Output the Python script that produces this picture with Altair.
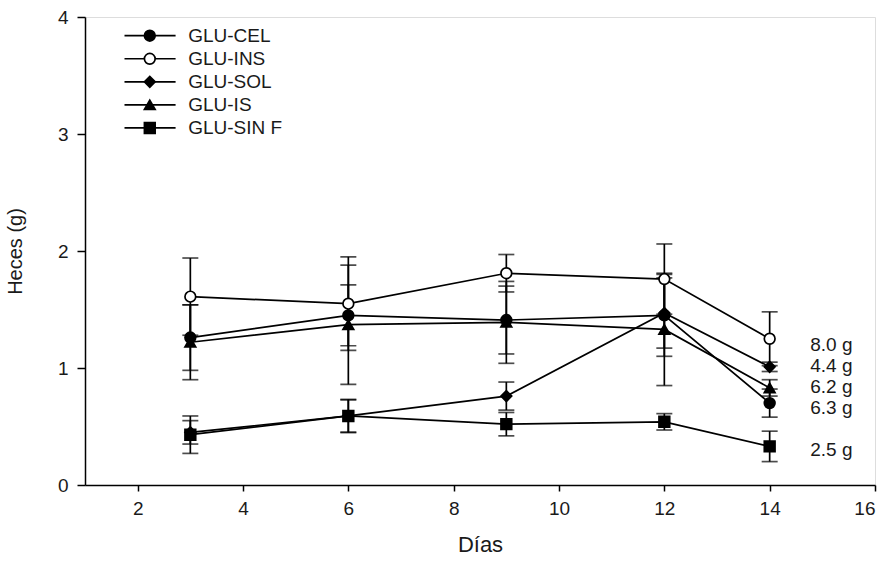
import altair as alt
import pandas as pd

# Sampling days and treatment groups
days = [3, 6, 9, 12, 14]
series = ["GLU-CEL", "GLU-INS", "GLU-SOL", "GLU-IS", "GLU-SIN F"]

# Mean fecal weight (g) per group and day
cel = [1.26, 1.45, 1.41, 1.45, 0.70]
ins = [1.61, 1.55, 1.81, 1.76, 1.25]
sol = [0.45, 0.59, 0.76, 1.47, 1.01]
is_ = [1.22, 1.37, 1.39, 1.33, 0.83]
sinf = [0.43, 0.59, 0.52, 0.54, 0.33]

# Error (+/-) per group and day
cel_err = [0.28, 0.26, 0.29, 0.35, 0.12]
ins_err = [0.33, 0.40, 0.16, 0.30, 0.23]
sol_err = [0.10, 0.14, 0.12, 0.30, 0.04]
is_err = [0.32, 0.51, 0.35, 0.48, 0.07]
sinf_err = [0.16, 0.14, 0.10, 0.07, 0.13]

# Cumulative totals printed at the right of the last day
totals = ["8.0 g", "4.4 g", "6.2 g", "6.3 g", "2.5 g"]
total_y = [1.20, 1.02, 0.84, 0.66, 0.30]

shapes = ["circle", "circle", "diamond", "triangle-up", "square"]
fills = ["black", "white", "black", "black", "black"]
sizes = [115, 115, 190, 135, 130]

means = [cel, ins, sol, is_, sinf]
errs = [cel_err, ins_err, sol_err, is_err, sinf_err]

rows = []
for name, m, e in zip(series, means, errs):
    for d, v, s in zip(days, m, e):
        rows.append({"serie": name, "dia": d, "heces": v,
                     "lo": v - s, "hi": v + s})
df = pd.DataFrame(rows)

FONT = "Liberation Sans"
TXT = "#1a1a1a"
LW = 1.7
x_scale = alt.Scale(domain=[1, 16], nice=False, zero=False)
y_scale = alt.Scale(domain=[0, 4], nice=False)
shape_scale = alt.Scale(domain=series, range=shapes)
fill_scale = alt.Scale(domain=series, range=fills)
size_scale = alt.Scale(domain=series, range=sizes)

x_axis = alt.Axis(values=[2, 4, 6, 8, 10, 12, 14, 16], title="Días",
                  format="d", grid=False, tickSize=6, labelPadding=8,
                  titlePadding=16, labelFontSize=19, titleFontSize=22,
                  labelFont=FONT, titleFont=FONT, titleFontWeight="normal",
                  domainColor="black", tickColor="black", domainWidth=1.5,
                  tickWidth=1.5, labelColor=TXT, titleColor=TXT)
y_axis = alt.Axis(values=[0, 1, 2, 3, 4], title="Heces (g)", format="d",
                  grid=False, tickSize=8, labelPadding=9, titlePadding=32,
                  labelFontSize=19, titleFontSize=20, labelFont=FONT,
                  titleFont=FONT, titleFontWeight="normal",
                  domainColor="black", tickColor="black", domainWidth=1.5,
                  tickWidth=1.5, labelColor=TXT, titleColor=TXT)

base = alt.Chart(df)

lines = base.mark_line(color="black", strokeWidth=LW).encode(
    x=alt.X("dia:Q", scale=x_scale, axis=x_axis),
    y=alt.Y("heces:Q", scale=y_scale, axis=y_axis),
    detail="serie:N",
)

bars = base.mark_rule(color="black", strokeWidth=LW).encode(
    x=alt.X("dia:Q", scale=x_scale),
    y=alt.Y("lo:Q", scale=y_scale),
    y2="hi:Q",
)

caps_hi = base.mark_tick(color="black", orient="horizontal", size=16,
                         thickness=LW).encode(
    x=alt.X("dia:Q", scale=x_scale),
    y=alt.Y("hi:Q", scale=y_scale),
)
caps_lo = base.mark_tick(color="black", orient="horizontal", size=16,
                         thickness=LW).encode(
    x=alt.X("dia:Q", scale=x_scale),
    y=alt.Y("lo:Q", scale=y_scale),
)

points = base.mark_point(stroke="black", strokeWidth=LW, opacity=1).encode(
    x=alt.X("dia:Q", scale=x_scale),
    y=alt.Y("heces:Q", scale=y_scale),
    shape=alt.Shape("serie:N", scale=shape_scale, legend=None),
    fill=alt.Fill("serie:N", scale=fill_scale, legend=None),
    size=alt.Size("serie:N", scale=size_scale, legend=None),
)

labels_df = pd.DataFrame({"txt": totals, "y": total_y,
                          "x": [14.77] * len(totals)})
total_text = alt.Chart(labels_df).mark_text(
    align="left", baseline="middle", fontSize=19, font=FONT, color=TXT
).encode(x=alt.X("x:Q", scale=x_scale), y=alt.Y("y:Q", scale=y_scale),
         text="txt:N")

# Legend block in the upper-left corner, drawn in data units
leg_y = [3.84 - 0.197 * i for i in range(len(series))]
leg_df = pd.DataFrame({"serie": series, "y": leg_y,
                       "x0": [1.75] * 5, "x1": [2.72] * 5,
                       "xm": [2.23] * 5, "xt": [2.96] * 5})
leg = alt.Chart(leg_df)
leg_lines = leg.mark_rule(color="black", strokeWidth=LW).encode(
    x=alt.X("x0:Q", scale=x_scale), x2="x1:Q",
    y=alt.Y("y:Q", scale=y_scale))
leg_pts = leg.mark_point(stroke="black", strokeWidth=LW, opacity=1).encode(
    x=alt.X("xm:Q", scale=x_scale), y=alt.Y("y:Q", scale=y_scale),
    shape=alt.Shape("serie:N", scale=shape_scale, legend=None),
    fill=alt.Fill("serie:N", scale=fill_scale, legend=None),
    size=alt.Size("serie:N", scale=size_scale, legend=None))
leg_txt = leg.mark_text(align="left", baseline="middle", fontSize=19,
                        font=FONT, color=TXT).encode(
    x=alt.X("xt:Q", scale=x_scale), y=alt.Y("y:Q", scale=y_scale),
    text="serie:N")

chart = alt.layer(
    lines, bars, caps_hi, caps_lo, points, total_text,
    leg_lines, leg_pts, leg_txt
).properties(
    width=790, height=468,
    autosize=alt.AutoSizeParams(type="none"),
    padding={"left": 85, "top": 17, "right": 14, "bottom": 82},
).configure_view(stroke=None).configure(background="white")

chart.save("out.html", embed_options={"renderer": "svg", "actions": False})
